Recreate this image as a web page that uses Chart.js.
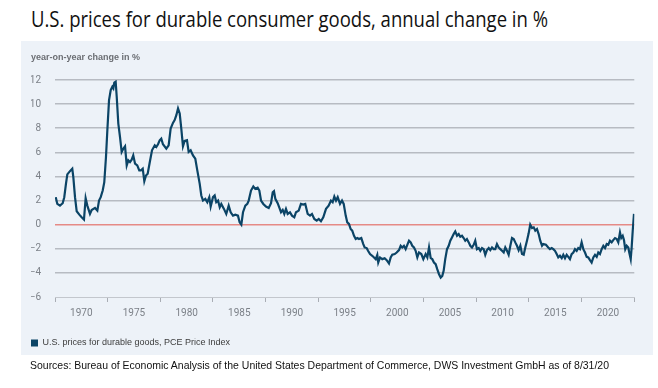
<!DOCTYPE html>
<html>
<head>
<meta charset="utf-8">
<script src="https://cdn.jsdelivr.net/npm/chart.js@4.4.0/dist/chart.umd.min.js"></script>
<style>
  body { margin: 0; width: 658px; height: 388px; background: #fff; position: relative; overflow: hidden; }
  #title { position: absolute; left: 31px; top: 5px; font: 21px "Open Sans", sans-serif; color: #111; white-space: nowrap; transform-origin: 0 0; }
  #panel { position: absolute; left: 21px; top: 41px; width: 632px; height: 314px; background: #edf2f8; }
  #unit { position: absolute; left: 10px; top: 11px; font: bold 9px "Liberation Sans", Arial, sans-serif; color: #6b6e73; white-space: nowrap; }
  #source { position: absolute; left: 30px; top: 359px; font: 11px "Liberation Sans", Arial, sans-serif; color: #111; white-space: nowrap; transform-origin: 0 0; }
  canvas { position: absolute; left: 0; top: 0; }
</style>
</head>
<body>
<div id="title">U.S. prices for durable consumer goods, annual change in %</div>
<div id="panel">
  <canvas id="chart" width="632" height="330"></canvas>
  <div id="unit">year-on-year change in %</div>
</div>
<div id="source">Sources: Bureau of Economic Analysis of the United States Department of Commerce, DWS Investment GmbH as of 8/31/20</div>

<script>
// x positions are in the chart's own axis years (labels sit between the tick marks)
const periods = [
  1967.57, 1967.72, 1967.97, 1968.23, 1968.38, 1968.54, 1968.67, 1968.92, 1969.14, 1969.24,
  1969.40, 1969.56, 1969.81, 1970.03, 1970.25, 1970.41, 1970.57, 1970.82, 1970.98, 1971.30,
  1971.52, 1971.68, 1971.84, 1972.03, 1972.18, 1972.34, 1972.47, 1972.63, 1972.79, 1972.94,
  1973.04, 1973.13, 1973.26, 1973.36, 1973.51, 1973.67, 1973.83, 1973.98, 1974.15, 1974.31,
  1974.46, 1974.62, 1974.78, 1974.93, 1975.10, 1975.31, 1975.50, 1975.66, 1975.83, 1975.98,
  1976.14, 1976.30, 1976.48, 1976.71, 1976.97, 1977.12, 1977.28, 1977.44, 1977.59, 1977.75,
  1978.07, 1978.29, 1978.48, 1978.70, 1978.86, 1979.02, 1979.18, 1979.34, 1979.49, 1979.65,
  1979.81, 1980.03, 1980.19, 1980.38, 1980.60, 1980.82, 1981.01, 1981.24, 1981.39, 1981.55,
  1981.77, 1981.96, 1982.15, 1982.28, 1982.50, 1982.66, 1982.81, 1982.98, 1983.14, 1983.29,
  1983.54, 1983.76, 1983.99, 1984.18, 1984.40, 1984.62, 1984.87, 1985.03, 1985.19, 1985.35,
  1985.57, 1985.76, 1985.89, 1986.11, 1986.33, 1986.52, 1986.74, 1986.90, 1987.06, 1987.28,
  1987.53, 1987.79, 1988.01, 1988.17, 1988.29, 1988.42, 1988.64, 1988.79, 1988.96, 1989.12,
  1989.27, 1989.43, 1989.59, 1989.81, 1990.00, 1990.22, 1990.38, 1990.64, 1990.85, 1991.07,
  1991.26, 1991.49, 1991.71, 1991.90, 1992.12, 1992.35, 1992.54, 1992.75, 1992.97, 1993.23,
  1993.48, 1993.70, 1993.86, 1994.02, 1994.18, 1994.34, 1994.56, 1994.75, 1994.91, 1995.10,
  1995.25, 1995.41, 1995.57, 1995.72, 1995.89, 1996.05, 1996.20, 1996.36, 1996.58, 1996.77,
  1996.90, 1997.09, 1997.22, 1997.41, 1997.62, 1997.79, 1997.95, 1998.10, 1998.19, 1998.36,
  1998.57, 1998.80, 1998.99, 1999.21, 1999.37, 1999.52, 1999.75, 1999.94, 2000.16, 2000.32,
  2000.47, 2000.63, 2000.79, 2000.95, 2001.11, 2001.27, 2001.42, 2001.58, 2001.74, 2001.90,
  2002.06, 2002.28, 2002.47, 2002.69, 2002.85, 2003.01, 2003.17, 2003.32, 2003.48, 2003.64,
  2003.79, 2003.96, 2004.12, 2004.27, 2004.40, 2004.55, 2004.72, 2004.88, 2005.03, 2005.19,
  2005.35, 2005.50, 2005.67, 2005.83, 2005.98, 2006.14, 2006.30, 2006.45, 2006.61, 2006.78,
  2006.93, 2007.09, 2007.25, 2007.40, 2007.56, 2007.73, 2007.88, 2008.04, 2008.20, 2008.35,
  2008.51, 2008.68, 2008.83, 2008.99, 2009.15, 2009.30, 2009.46, 2009.62, 2009.78, 2009.94,
  2010.10, 2010.25, 2010.41, 2010.57, 2010.73, 2010.89, 2011.05, 2011.20, 2011.36, 2011.52,
  2011.68, 2011.84, 2012.00, 2012.15, 2012.31, 2012.47, 2012.62, 2012.79, 2012.95, 2013.10,
  2013.26, 2013.42, 2013.57, 2013.74, 2013.86, 2014.11, 2014.33, 2014.49, 2014.66, 2014.81,
  2014.97, 2015.13, 2015.28, 2015.44, 2015.61, 2015.76, 2015.92, 2016.08, 2016.23, 2016.39,
  2016.55, 2016.71, 2016.87, 2017.03, 2017.18, 2017.34, 2017.50, 2017.66, 2017.82, 2017.98,
  2018.13, 2018.29, 2018.45, 2018.61, 2018.77, 2018.93, 2019.08, 2019.24, 2019.40, 2019.56,
  2019.72, 2019.88, 2020.03, 2020.19, 2020.35, 2020.50, 2020.67, 2020.83, 2020.98, 2021.14,
  2021.26, 2021.40, 2021.52, 2021.64, 2021.78, 2021.93, 2022.02, 2022.16, 2022.25, 2022.35,
  2022.47
];

const changePct = [
  2.28, 1.72, 1.58, 1.78, 2.28, 3.39, 4.17, 4.44, 4.64, 3.94,
  2.28, 1.11, 0.83, 0.61, 0.42, 2.19, 1.58, 0.89, 1.22, 1.39,
  1.17, 2.00, 2.28, 2.83, 3.53, 5.61, 7.83, 10.33, 11.17, 11.44,
  11.30, 11.78, 11.86, 10.61, 8.39, 7.28, 6.03, 6.30, 6.50, 4.92,
  5.33, 5.19, 5.39, 5.75, 5.06, 4.92, 4.50, 4.50, 4.64, 3.61,
  4.08, 4.22, 5.10, 6.17, 6.58, 6.44, 6.67, 7.00, 7.14, 6.67,
  6.31, 6.58, 7.97, 8.44, 8.67, 9.08, 9.64, 9.22, 7.97, 6.50,
  6.94, 7.00, 6.03, 6.17, 5.75, 5.47, 4.50, 3.39, 2.42, 2.00,
  2.14, 1.86, 2.28, 1.50, 2.28, 2.42, 1.86, 2.00, 1.44, 1.72,
  1.31, 0.89, 1.58, 1.03, 0.75, 0.83, 0.75, 0.19, 0.00, 1.03,
  1.58, 1.72, 2.00, 2.83, 3.17, 2.97, 3.06, 2.83, 2.00, 1.72,
  1.50, 1.39, 1.78, 2.69, 2.78, 2.14, 1.78, 1.44, 1.03, 1.22,
  0.89, 1.31, 0.89, 1.03, 0.75, 0.61, 1.03, 1.17, 1.72, 1.67,
  1.72, 0.89, 0.75, 0.89, 0.47, 0.33, 0.47, 0.28, 0.61, 1.31,
  1.58, 2.00, 1.86, 2.33, 2.00, 2.28, 1.72, 2.00, 1.72, 0.75,
  0.19, 0.06, -0.36, -0.50, -0.92, -1.19, -1.11, -1.19, -1.11, -1.61,
  -1.89, -1.94, -2.17, -2.44, -2.58, -2.72, -2.86, -2.50, -3.14, -2.72,
  -2.86, -2.78, -2.94, -3.22, -2.72, -2.50, -2.44, -2.31, -2.11, -1.75,
  -1.89, -1.75, -2.03, -1.67, -1.33, -1.47, -1.75, -1.89, -2.17, -2.72,
  -2.31, -2.44, -2.86, -2.44, -2.72, -1.89, -2.78, -2.86, -3.14, -3.28,
  -3.69, -4.11, -4.39, -4.25, -3.83, -2.86, -2.03, -1.75, -1.33, -1.06,
  -0.78, -0.56, -0.92, -0.78, -1.00, -0.92, -1.11, -1.33, -1.19, -1.47,
  -1.75, -1.89, -1.67, -1.33, -2.03, -1.94, -2.17, -1.94, -2.03, -2.50,
  -2.11, -1.94, -2.11, -1.89, -2.03, -2.03, -1.61, -1.89, -2.03, -2.17,
  -2.31, -1.89, -2.17, -2.50, -1.75, -1.11, -1.19, -1.47, -1.75, -2.11,
  -1.75, -2.44, -2.50, -1.89, -1.33, -0.72, 0.00, -0.28, -0.22, -0.50,
  -0.36, -0.78, -1.33, -1.75, -1.61, -1.67, -1.89, -2.03, -1.94, -2.03,
  -2.17, -2.44, -2.72, -2.58, -2.78, -2.50, -2.78, -2.50, -2.67, -2.86,
  -2.44, -2.31, -2.03, -2.17, -1.94, -2.03, -1.47, -2.03, -2.31, -2.67,
  -2.72, -2.94, -3.14, -2.72, -2.50, -2.67, -2.31, -2.44, -2.03, -1.75,
  -1.94, -1.61, -1.67, -1.33, -1.47, -1.28, -1.11, -1.19, -1.47, -0.64,
  -1.11, -0.92, -1.28, -2.03, -1.75, -1.89, -2.31, -2.86, -1.89, -0.50,
  0.89
];

const tickEdges = [1967.5, 1972.5, 1977.5, 1982.5, 1987.5, 1992.5, 1997.5, 2002.5, 2007.5, 2012.5, 2017.5, 2022.5];
const yearLabels = ['1970', '1975', '1980', '1985', '1990', '1995', '2000', '2005', '2010', '2015', '2020'];
const seriesName = 'U.S. prices for durable goods, PCE Price Index';

const lineColor = '#0b4466';
const gridColor = '#b7bbc2';
const zeroColor = '#e58a86';
const tickColor = '#7c8188';

// stretch the plain text lines to the width they take in the original
function fitWidth(id, w) {
  const el = document.getElementById(id);
  el.style.transform = 'scaleX(' + (w / el.getBoundingClientRect().width) + ')';
}
fitWidth('title', 517);
fitWidth('source', 579);

new Chart(document.getElementById('chart'), {
  type: 'line',
  data: {
    datasets: [{
      label: seriesName,
      data: periods.map((x, i) => ({ x: x, y: changePct[i] })),
      borderColor: lineColor,
      backgroundColor: lineColor,
      borderWidth: 2.2,
      pointRadius: 0,
      tension: 0
    }]
  },
  options: {
    responsive: false,
    animation: false,
    layout: { padding: { left: 10, right: 18.7, top: 39, bottom: 13.5 } },
    plugins: {
      tooltip: { enabled: false },
      legend: {
        position: 'bottom',
        align: 'start',
        labels: {
          boxWidth: 7,
          boxHeight: 7,
          padding: 0,
          color: '#3c3c3c',
          font: { family: '"Liberation Sans", Arial, sans-serif', size: 9 },
          generateLabels: (chart) =>
            Chart.defaults.plugins.legend.labels.generateLabels(chart).map(l => ({ ...l, lineWidth: 0 }))
        }
      }
    },
    scales: {
      x: {
        type: 'linear',
        min: 1967.5,
        max: 2022.5,
        afterBuildTicks: (scale) => { scale.ticks = tickEdges.map(v => ({ value: v })); },
        afterFit: (scale) => { scale.height = 41.5; },
        ticks: {
          autoSkip: false,
          maxRotation: 0,
          padding: 5,
          labelOffset: 26.3,
          color: tickColor,
          font: { family: 'Roboto, "Liberation Sans", sans-serif', size: 10 },
          callback: (v, i) => yearLabels[i] || ''
        },
        grid: { drawOnChartArea: false, drawTicks: true, tickLength: 5, color: '#a9adb4', lineWidth: 1 },
        border: { display: true, color: '#c3c7cd', width: 1 }
      },
      y: {
        min: -6,
        max: 12,
        afterFit: (scale) => { scale.width = 24; },
        ticks: {
          stepSize: 2,
          padding: 14,
          color: tickColor,
          font: { family: 'Roboto, "Liberation Sans", sans-serif', size: 10 },
          callback: (v) => (v < 0 ? '\u2212' + Math.abs(v) : String(v))
        },
        grid: {
          drawTicks: false,
          lineWidth: 1.5,
          color: (ctx) => ctx.tick.value === 0 ? zeroColor : (ctx.tick.value === -6 ? 'rgba(0,0,0,0)' : gridColor)
        },
        border: { display: false }
      }
    }
  }
});
</script>
</body>
</html>
